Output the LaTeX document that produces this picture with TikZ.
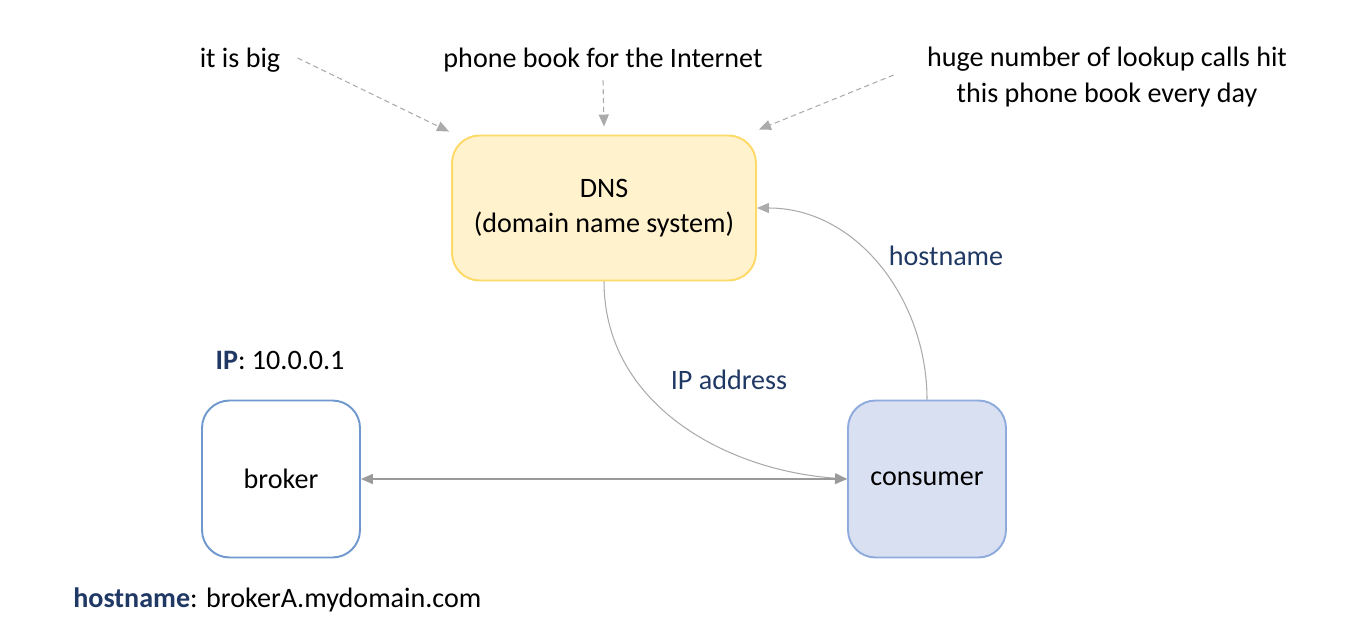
\documentclass[tikz,border=0pt]{standalone}
\usepackage{fontspec}
\setmainfont{Carlito}
\usepackage{tikz}
\usetikzlibrary{positioning, arrows.meta}
\definecolor{dnsfill}{HTML}{FFF2CC}
\definecolor{dnsline}{HTML}{FFD966}
\definecolor{conffill}{HTML}{D9E0F2}
\definecolor{conline}{HTML}{8FAADC}
\definecolor{brkline}{HTML}{6F98CE}
\definecolor{navy}{HTML}{203864}
\definecolor{lnk}{HTML}{ABABAB}
\tikzset{Box/.style={draw, line width=1.1pt, rounded corners=0.55cm, align=center, font=\fontsize{16}{20}\selectfont}}
\tikzset{T/.style={align=center, inner sep=0pt, font=\fontsize{16}{20}\selectfont}}
\tikzset{N/.style={T, text=navy}}
\tikzset{E/.style={draw=lnk, line width=0.6pt, -{Triangle[length=0.24cm, width=0.2cm]}, color=lnk}}
\tikzset{Dsh/.style={E, dashed, dash pattern=on 3pt off 2pt}}

\begin{document}
\begin{tikzpicture}[x=0.02cm, y=-0.02cm]
        \useasboundingbox (0,0) rectangle (1345,629);
        %% Boxes
        \node[Box, fill=dnsfill, draw=dnsline, minimum width=6.08cm, minimum height=2.9cm] (dns) at (604,208) {DNS\\(domain name system)};
        \node[Box, fill=white, draw=brkline, minimum width=3.16cm, minimum height=3.14cm] (broker) at (281,479) {broker};
        \node[Box, fill=conffill, draw=conline, minimum width=3.16cm, minimum height=3.14cm] (consumer) at (927,479) {consumer};
        %% Notes on top
        \node[T] (big) at (240,60) {it is big};
        \node[T] (book) at (603,60) {phone book for the Internet};
        \node[T] (calls) at (1107,77) {huge number of lookup calls hit\\this phone book every day};
        \draw[Dsh] ([xshift=0.34cm, yshift=0.04cm]big.east) -- ([xshift=-0.04cm, yshift=0.06cm]dns.north west);
        \draw[Dsh] ([yshift=-0.16cm]book.south) -- ([yshift=0.16cm]dns.north);
        \draw[Dsh] ([xshift=-0.66cm, yshift=0.04cm]calls.west) -- ([xshift=0.04cm, yshift=0.1cm]dns.north east);
        %% Broker labels
        \node[T] (ip) at (280,360) {\textbf{\color{navy}IP}: 10.0.0.1};
        \node[T, anchor=west] (host) at (73,600) {\textbf{\color{navy}hostname}: brokerA.mydomain.com};
        %% Edges
        \draw[E] (consumer.north) to [out=90, in=0] (dns.east);
        \draw[E] (dns.south) to [out=270, in=176] (consumer.west);
        \draw[E, {Triangle[length=0.24cm, width=0.2cm]}-{Triangle[length=0.24cm, width=0.2cm]}, line width=1pt, draw=lnk!90!black] (broker.east) -- (consumer.west);
        \node[N] (hostlbl) at (946,256) {hostname};
        \node[N] (iplbl) at (729,380) {IP address};
\end{tikzpicture}
\end{document}
